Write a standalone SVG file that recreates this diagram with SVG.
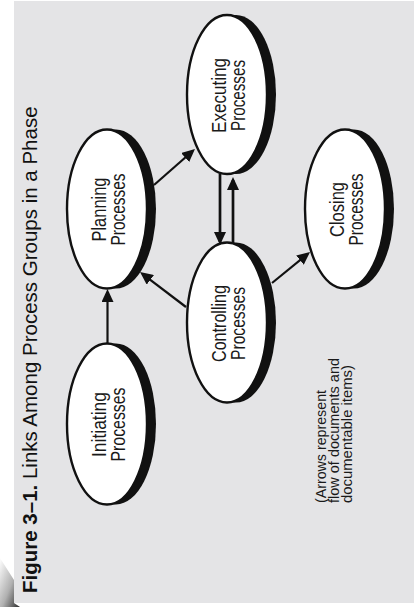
<svg xmlns="http://www.w3.org/2000/svg" width="414" height="607" viewBox="0 0 414 607">
  <style>
    .shadow { fill: #111; }
    .oval { fill: #fff; stroke: #111; stroke-width: 2.4; }
    .lbl { font-family: "Liberation Sans", Arial, sans-serif; font-size: 20px; fill: #1a1a1a; text-anchor: middle; }
    .title { font-family: "Liberation Sans", Arial, sans-serif; font-size: 20.5px; fill: #111; }
    .note { font-family: "Liberation Sans", Arial, sans-serif; font-size: 15px; fill: #1a1a1a; }
    .conn { stroke: #111; stroke-width: 2.2; fill: none; marker-end: url(#arrow); }
    .conn.thick { stroke-width: 2.7; }
  </style>
  <defs>
    <marker id="arrow" markerUnits="userSpaceOnUse" markerWidth="14" markerHeight="12" refX="10" refY="6" orient="auto">
      <path d="M0,0 L13,6 L0,12 Z" fill="#111"/>
    </marker>
    <linearGradient id="curl" x1="0" y1="0" x2="1" y2="1">
      <stop offset="0" stop-color="#ffffff"/>
      <stop offset="0.55" stop-color="#b0b0b0"/>
      <stop offset="1" stop-color="#2a2a2a"/>
    </linearGradient>
  </defs>

  <rect x="0" y="0" width="414" height="607" fill="#ffffff"/>
  <rect x="14" y="1" width="400" height="602" fill="#e4e4e6"/>
  <path d="M0,558 L14,580 L14,603 L20,607 L0,607 Z" fill="url(#curl)"/>

  <text class="title" transform="translate(37,593) rotate(-90)"><tspan font-weight="bold">Figure 3–1.</tspan> Links Among Process Groups in a Phase</text>

  <g id="node-executing">
    <ellipse class="shadow" cx="236" cy="94.5" rx="40" ry="79.5"/>
    <ellipse class="oval" cx="227" cy="94.5" rx="40" ry="79.5"/>
    <text class="lbl" transform="translate(227,95.5) rotate(-90)"><tspan x="0" y="-1" textLength="75" lengthAdjust="spacingAndGlyphs">Executing</tspan><tspan x="0" y="18" textLength="71" lengthAdjust="spacingAndGlyphs">Processes</tspan></text>
  </g>

  <g id="node-planning">
    <ellipse class="shadow" cx="116" cy="209" rx="40" ry="79.5"/>
    <ellipse class="oval" cx="107" cy="209" rx="40" ry="79.5"/>
    <text class="lbl" transform="translate(107,209.5) rotate(-90)"><tspan x="0" y="-1" textLength="64" lengthAdjust="spacingAndGlyphs">Planning</tspan><tspan x="0" y="18" textLength="72" lengthAdjust="spacingAndGlyphs">Processes</tspan></text>
  </g>

  <g id="node-closing">
    <ellipse class="shadow" cx="354" cy="209" rx="40" ry="79.5"/>
    <ellipse class="oval" cx="345" cy="209" rx="40" ry="79.5"/>
    <text class="lbl" transform="translate(345,209.5) rotate(-90)"><tspan x="0" y="-1" textLength="55" lengthAdjust="spacingAndGlyphs">Closing</tspan><tspan x="0" y="18" textLength="72" lengthAdjust="spacingAndGlyphs">Processes</tspan></text>
  </g>

  <g id="node-controlling">
    <ellipse class="shadow" cx="236" cy="322.5" rx="40" ry="80"/>
    <ellipse class="oval" cx="227" cy="322.5" rx="40" ry="80"/>
    <text class="lbl" transform="translate(227,323.5) rotate(-90)"><tspan x="0" y="-1" textLength="77" lengthAdjust="spacingAndGlyphs">Controlling</tspan><tspan x="0" y="18" textLength="73" lengthAdjust="spacingAndGlyphs">Processes</tspan></text>
  </g>

  <g id="node-initiating">
    <ellipse class="shadow" cx="116" cy="424" rx="40" ry="80.5"/>
    <ellipse class="oval" cx="107" cy="424" rx="40" ry="80.5"/>
    <text class="lbl" transform="translate(107,424.5) rotate(-90)"><tspan x="0" y="-1" textLength="65" lengthAdjust="spacingAndGlyphs">Initiating</tspan><tspan x="0" y="18" textLength="74" lengthAdjust="spacingAndGlyphs">Processes</tspan></text>
  </g>

  <g id="connectors">
    <line class="conn" x1="107.5" y1="343.5" x2="107.5" y2="292"/>
    <line class="conn" x1="154" y1="185" x2="192.7" y2="151"/>
    <line class="conn" x1="186" y1="307" x2="142.4" y2="273.8"/>
    <line class="conn" x1="272" y1="283" x2="307.7" y2="253.9"/>
    <line class="conn thick" x1="220" y1="174" x2="220" y2="242"/>
    <line class="conn thick" x1="233" y1="243" x2="233" y2="180"/>
  </g>

  <text class="note" transform="translate(0,503) rotate(-90)"><tspan x="0" y="326" textLength="113" lengthAdjust="spacingAndGlyphs">(Arrows represent</tspan><tspan x="0" y="339" textLength="145" lengthAdjust="spacingAndGlyphs">flow of documents and</tspan><tspan x="0" y="351.5" textLength="138" lengthAdjust="spacingAndGlyphs">documentable items)</tspan></text>
</svg>
